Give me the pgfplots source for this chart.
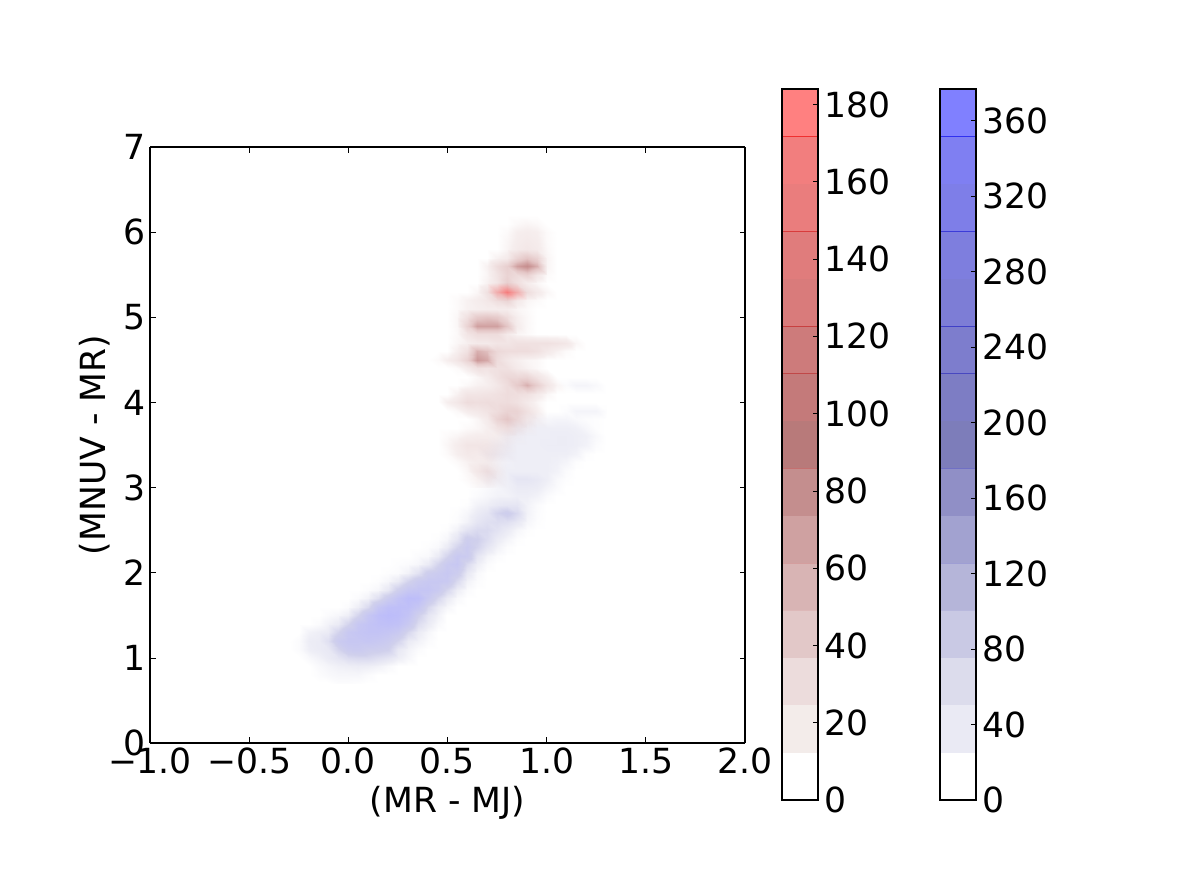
\documentclass[border=0pt]{standalone}
\usepackage{fontspec}
\setmainfont{DejaVu Sans}
\usepackage{pgfplots}
\pgfplotsset{compat=1.18}

% colormaps of the density image
\pgfplotsset{
  colormap={mapred}{rgb255(0)=(255,255,255) rgb255(105)=(246,238,238) rgb255(580)=(228,198,198) rgb255(900)=(204,152,152) rgb255(1000)=(198,142,142)},
  colormap={mapspot}{rgb255(0)=(255,255,255) rgb255(1000)=(255,135,135)},
  colormap={mapblue}{rgb255(0)=(255,255,255) rgb255(110)=(238,238,246) rgb255(400)=(208,208,236) rgb255(1000)=(188,188,250)},
  barax/.style={
    width=0.36in, height=7.11in, scale only axis,
    xmin=0, xmax=1, xtick=\empty,
    ytick pos=right, yticklabel pos=right,
    tick align=inside, major tick length=0.055in,
    tick style={black, line width=0.5pt},
    axis line style={line width=0.8pt},
    anchor=south west, axis on top,
    ticklabel style={font=\fontsize{25}{25}\selectfont},
    /pgf/number format/assume math mode=true,
    /pgf/number format/fixed,
    yticklabel shift=0.02in,
  },
}
% one band of a colour bar: fill, edge colour, lower and upper value
\newcommand{\lev}[4]{%
  \addplot[draw=none, fill=#1, forget plot] coordinates {(0,#3) (1,#3) (1,#4) (0,#4)} -- cycle;
  \addplot[color=#2, line width=0.6pt, forget plot] coordinates {(0,#4) (1,#4)};
}

\begin{document}
\begin{tikzpicture}
\path[use as bounding box] (0,0) rectangle (12in,8.9in);

\begin{axis}[
  at={(1.50in,1.47in)}, anchor=south west,
  width=5.95in, height=5.96in, scale only axis,
  view={0}{90},
  xmin=-1, xmax=2, ymin=0, ymax=7,
  xtick={-1,-0.5,...,2}, ytick={0,1,...,7},
  xticklabels={−1.0,−0.5,0.0,0.5,1.0,1.5,2.0},
  tick align=inside, major tick length=0.055in,
  tick style={black, line width=0.5pt},
  axis line style={line width=0.8pt},
  axis on top,
  ticklabel style={font=\fontsize{25}{25}\selectfont},
  /pgf/number format/assume math mode=true,
  xlabel={(MR - MJ)}, ylabel={(MNUV - MR)},
  label style={font=\fontsize{25}{25}\selectfont},
  xlabel style={at={(axis description cs:0.5,0)}, anchor=base, yshift=-0.69in},
  ylabel style={at={(axis description cs:0,0.5)}, anchor=base, rotate=0, yshift=0.44in},
]
% blue: 33 columns x=-0.30..1.30, 37 rows y=0.7..4.3 (groups of five)
\addplot3[surf, shader=interp, colormap name=mapblue, point meta rel=per plot, point meta=z, mesh/cols=33]
  table[row sep=crcr, header=false, x expr={-0.30+0.05*mod(\coordindex,33)}, y expr={0.7+0.1*floor(\coordindex/33)}, z index=0] {
0\\0\\0\\0\\0\\ 8\\8\\5\\0\\0\\ 0\\0\\0\\0\\0\\ 0\\0\\0\\0\\0\\ 0\\0\\0\\0\\0\\ 0\\0\\0\\0\\0\\ 0\\0\\0\\
0\\0\\0\\8\\15\\ 20\\20\\20\\10\\0\\ 0\\0\\0\\0\\0\\ 0\\0\\0\\0\\0\\ 0\\0\\0\\0\\0\\ 0\\0\\0\\0\\0\\ 0\\0\\0\\
0\\0\\0\\15\\25\\ 35\\40\\45\\40\\30\\ 15\\0\\0\\0\\0\\ 0\\0\\0\\0\\0\\ 0\\0\\0\\0\\0\\ 0\\0\\0\\0\\0\\ 0\\0\\0\\
0\\0\\15\\30\\50\\ 70\\100\\110\\110\\90\\ 70\\40\\20\\0\\0\\ 0\\0\\0\\0\\0\\ 0\\0\\0\\0\\0\\ 0\\0\\0\\0\\0\\ 0\\0\\0\\
0\\10\\40\\50\\60\\ 130\\200\\210\\180\\170\\ 150\\60\\30\\10\\0\\ 0\\0\\0\\0\\0\\ 0\\0\\0\\0\\0\\ 0\\0\\0\\0\\0\\ 0\\0\\0\\
0\\10\\45\\50\\90\\ 200\\240\\240\\250\\230\\ 200\\130\\50\\30\\10\\ 0\\0\\0\\0\\0\\ 0\\0\\0\\0\\0\\ 0\\0\\0\\0\\0\\ 0\\0\\0\\
0\\0\\30\\40\\50\\ 130\\230\\260\\280\\280\\ 260\\220\\120\\50\\20\\ 0\\0\\0\\0\\0\\ 0\\0\\0\\0\\0\\ 0\\0\\0\\0\\0\\ 0\\0\\0\\
0\\0\\0\\10\\30\\ 50\\130\\240\\280\\310\\ 320\\300\\220\\100\\50\\ 15\\0\\0\\0\\0\\ 0\\0\\0\\0\\0\\ 0\\0\\0\\0\\0\\ 0\\0\\0\\
0\\0\\0\\0\\10\\ 20\\40\\130\\250\\330\\ 360\\340\\280\\150\\70\\ 30\\0\\0\\0\\0\\ 0\\0\\0\\0\\0\\ 0\\0\\0\\0\\0\\ 0\\0\\0\\
0\\0\\0\\0\\0\\ 0\\10\\40\\110\\250\\ 320\\330\\320\\250\\120\\ 50\\20\\0\\0\\0\\ 0\\0\\0\\0\\0\\ 0\\0\\0\\0\\0\\ 0\\0\\0\\
0\\0\\0\\0\\0\\ 0\\0\\10\\30\\90\\ 190\\280\\350\\340\\220\\ 120\\50\\15\\0\\0\\ 0\\0\\0\\0\\0\\ 0\\0\\0\\0\\0\\ 0\\0\\0\\
0\\0\\0\\0\\0\\ 0\\0\\0\\8\\20\\ 60\\160\\240\\260\\260\\ 210\\120\\40\\10\\0\\ 0\\0\\0\\0\\0\\ 0\\0\\0\\0\\0\\ 0\\0\\0\\
0\\0\\0\\0\\0\\ 0\\0\\0\\0\\5\\ 20\\50\\130\\200\\230\\ 230\\220\\110\\30\\8\\ 0\\0\\0\\0\\0\\ 0\\0\\0\\0\\0\\ 0\\0\\0\\
0\\0\\0\\0\\0\\ 0\\0\\0\\0\\0\\ 5\\10\\30\\80\\170\\ 200\\230\\180\\60\\15\\ 0\\0\\0\\0\\0\\ 0\\0\\0\\0\\0\\ 0\\0\\0\\
0\\0\\0\\0\\0\\ 0\\0\\0\\0\\0\\ 0\\5\\10\\20\\50\\ 130\\210\\240\\110\\40\\ 10\\0\\0\\0\\0\\ 0\\0\\0\\0\\0\\ 0\\0\\0\\
0\\0\\0\\0\\0\\ 0\\0\\0\\0\\0\\ 0\\0\\0\\10\\15\\ 50\\130\\220\\200\\70\\ 25\\8\\0\\0\\0\\ 0\\0\\0\\0\\0\\ 0\\0\\0\\
0\\0\\0\\0\\0\\ 0\\0\\0\\0\\0\\ 0\\0\\0\\0\\5\\ 15\\50\\130\\200\\130\\ 70\\30\\8\\0\\0\\ 0\\0\\0\\0\\0\\ 0\\0\\0\\
0\\0\\0\\0\\0\\ 0\\0\\0\\0\\0\\ 0\\0\\0\\0\\0\\ 5\\20\\70\\170\\150\\ 100\\50\\25\\5\\0\\ 0\\0\\0\\0\\0\\ 0\\0\\0\\
0\\0\\0\\0\\0\\ 0\\0\\0\\0\\0\\ 0\\0\\0\\0\\0\\ 0\\5\\30\\80\\110\\ 110\\80\\50\\20\\5\\ 0\\0\\0\\0\\0\\ 0\\0\\0\\
0\\0\\0\\0\\0\\ 0\\0\\0\\0\\0\\ 0\\0\\0\\0\\0\\ 0\\0\\8\\30\\70\\ 90\\100\\90\\60\\20\\ 5\\0\\0\\0\\0\\ 0\\0\\0\\
0\\0\\0\\0\\0\\ 0\\0\\0\\0\\0\\ 0\\0\\0\\0\\0\\ 0\\0\\5\\20\\50\\ 70\\130\\170\\110\\30\\ 8\\0\\0\\0\\0\\ 0\\0\\0\\
0\\0\\0\\0\\0\\ 0\\0\\0\\0\\0\\ 0\\0\\0\\0\\0\\ 0\\0\\0\\5\\30\\ 40\\60\\70\\70\\30\\ 10\\0\\0\\0\\0\\ 0\\0\\0\\
0\\0\\0\\0\\0\\ 0\\0\\0\\0\\0\\ 0\\0\\0\\0\\0\\ 0\\0\\0\\0\\10\\ 20\\30\\30\\40\\40\\ 30\\10\\0\\0\\0\\ 0\\0\\0\\
0\\0\\0\\0\\0\\ 0\\0\\0\\0\\0\\ 0\\0\\0\\0\\0\\ 0\\0\\0\\0\\5\\ 15\\25\\35\\50\\50\\ 45\\25\\10\\0\\0\\ 0\\0\\0\\
0\\0\\0\\0\\0\\ 0\\0\\0\\0\\0\\ 0\\0\\0\\0\\0\\ 0\\0\\0\\0\\0\\ 15\\30\\40\\70\\70\\ 60\\40\\15\\5\\0\\ 0\\0\\0\\
0\\0\\0\\0\\0\\ 0\\0\\0\\0\\0\\ 0\\0\\0\\0\\0\\ 0\\0\\0\\0\\0\\ 10\\20\\40\\40\\40\\ 40\\40\\30\\10\\0\\ 0\\0\\0\\
0\\0\\0\\0\\0\\ 0\\0\\0\\0\\0\\ 0\\0\\0\\0\\0\\ 0\\0\\0\\0\\0\\ 5\\20\\35\\40\\40\\ 40\\40\\35\\25\\5\\ 0\\0\\0\\
0\\0\\0\\0\\0\\ 0\\0\\0\\0\\0\\ 0\\0\\0\\0\\0\\ 0\\0\\0\\0\\0\\ 15\\30\\40\\40\\40\\ 40\\40\\40\\40\\30\\ 5\\0\\0\\
0\\0\\0\\0\\0\\ 0\\0\\0\\0\\0\\ 0\\0\\0\\0\\0\\ 0\\0\\0\\0\\0\\ 5\\20\\35\\40\\40\\ 40\\45\\45\\45\\40\\ 30\\8\\0\\
0\\0\\0\\0\\0\\ 0\\0\\0\\0\\0\\ 0\\0\\0\\0\\0\\ 0\\0\\0\\0\\0\\ 0\\5\\25\\35\\40\\ 40\\40\\45\\45\\40\\ 35\\15\\0\\
0\\0\\0\\0\\0\\ 0\\0\\0\\0\\0\\ 0\\0\\0\\0\\0\\ 0\\0\\0\\0\\0\\ 0\\0\\5\\25\\30\\ 40\\40\\40\\40\\35\\ 20\\5\\0\\
0\\0\\0\\0\\0\\ 0\\0\\0\\0\\0\\ 0\\0\\0\\0\\0\\ 0\\0\\0\\0\\0\\ 0\\0\\0\\5\\10\\ 20\\20\\25\\25\\15\\ 8\\5\\0\\
0\\0\\0\\0\\0\\ 0\\0\\0\\0\\0\\ 0\\0\\0\\0\\0\\ 0\\0\\0\\0\\0\\ 0\\0\\0\\0\\0\\ 0\\0\\0\\8\\25\\ 25\\25\\5\\
0\\0\\0\\0\\0\\ 0\\0\\0\\0\\0\\ 0\\0\\0\\0\\0\\ 0\\0\\0\\0\\0\\ 0\\0\\0\\0\\0\\ 0\\0\\0\\0\\0\\ 0\\0\\0\\
0\\0\\0\\0\\0\\ 0\\0\\0\\0\\0\\ 0\\0\\0\\0\\0\\ 0\\0\\0\\0\\0\\ 0\\0\\0\\0\\0\\ 0\\0\\0\\0\\0\\ 0\\0\\0\\
0\\0\\0\\0\\0\\ 0\\0\\0\\0\\0\\ 0\\0\\0\\0\\0\\ 0\\0\\0\\0\\0\\ 0\\0\\0\\0\\0\\ 0\\0\\0\\10\\25\\ 25\\15\\0\\
0\\0\\0\\0\\0\\ 0\\0\\0\\0\\0\\ 0\\0\\0\\0\\0\\ 0\\0\\0\\0\\0\\ 0\\0\\0\\0\\0\\ 0\\0\\0\\0\\0\\ 0\\0\\0\\
};
% red: 19 columns x=0.40..1.30, 33 rows y=3.0..6.2 (groups of five)
\addplot3[surf, shader=interp, colormap name=mapred, point meta rel=per plot, point meta=z, mesh/cols=19, blend mode=multiply]
  table[row sep=crcr, header=false, x expr={0.40+0.05*mod(\coordindex,19)}, y expr={3.0+0.1*floor(\coordindex/19)}, z index=0] {
0\\0\\0\\0\\0\\ 3\\3\\0\\0\\0\\ 0\\0\\0\\0\\0\\ 0\\0\\0\\0\\
0\\0\\0\\0\\3\\ 8\\12\\5\\0\\0\\ 0\\0\\0\\0\\0\\ 0\\0\\0\\0\\
0\\0\\0\\0\\5\\ 18\\25\\8\\0\\0\\ 0\\0\\0\\0\\0\\ 0\\0\\0\\0\\
0\\0\\0\\3\\8\\ 12\\12\\5\\0\\0\\ 0\\0\\0\\0\\0\\ 0\\0\\0\\0\\
0\\0\\3\\10\\16\\ 14\\16\\8\\3\\0\\ 0\\0\\0\\0\\0\\ 0\\0\\0\\0\\
0\\0\\5\\12\\20\\ 20\\18\\10\\5\\0\\ 0\\0\\0\\0\\0\\ 0\\0\\0\\0\\
0\\0\\3\\6\\10\\ 12\\12\\10\\8\\3\\ 0\\0\\0\\0\\0\\ 0\\0\\0\\0\\
0\\0\\0\\0\\3\\ 5\\10\\22\\28\\12\\ 5\\0\\0\\0\\0\\ 0\\0\\0\\0\\
0\\0\\0\\0\\0\\ 5\\14\\40\\55\\35\\ 15\\5\\0\\0\\0\\ 0\\0\\0\\0\\
0\\0\\0\\4\\12\\ 16\\22\\30\\40\\40\\ 25\\10\\0\\0\\0\\ 0\\0\\0\\0\\
0\\0\\10\\18\\30\\ 28\\30\\28\\30\\25\\ 15\\6\\0\\0\\0\\ 0\\0\\0\\0\\
0\\0\\0\\8\\20\\ 20\\22\\25\\30\\28\\ 25\\15\\5\\0\\0\\ 0\\0\\0\\0\\
0\\0\\0\\0\\4\\ 8\\10\\18\\30\\50\\ 70\\45\\20\\6\\0\\ 0\\0\\0\\0\\
0\\0\\0\\0\\0\\ 5\\12\\25\\35\\35\\ 38\\22\\10\\0\\0\\ 0\\0\\0\\0\\
0\\0\\0\\3\\12\\ 25\\22\\25\\25\\14\\ 8\\4\\0\\0\\0\\ 0\\0\\0\\0\\
0\\3\\10\\20\\40\\ 85\\75\\30\\18\\10\\ 6\\4\\0\\0\\0\\ 0\\0\\0\\0\\
0\\0\\0\\10\\25\\ 70\\60\\35\\30\\30\\ 30\\25\\15\\8\\3\\ 0\\0\\0\\0\\
0\\0\\0\\5\\10\\ 15\\15\\20\\20\\25\\ 25\\25\\25\\22\\18\\ 5\\0\\0\\0\\
0\\0\\0\\4\\20\\ 30\\30\\30\\15\\6\\ 3\\0\\0\\0\\0\\ 0\\0\\0\\0\\
0\\0\\0\\5\\40\\ 80\\80\\80\\55\\12\\ 4\\0\\0\\0\\0\\ 0\\0\\0\\0\\
0\\0\\0\\5\\25\\ 50\\55\\50\\30\\10\\ 4\\0\\0\\0\\0\\ 0\\0\\0\\0\\
0\\0\\0\\3\\8\\ 10\\12\\12\\12\\6\\ 3\\0\\0\\0\\0\\ 0\\0\\0\\0\\
0\\0\\0\\3\\8\\ 12\\18\\30\\40\\15\\ 6\\3\\0\\0\\0\\ 0\\0\\0\\0\\
0\\0\\0\\0\\0\\ 5\\25\\25\\12\\25\\ 30\\15\\5\\0\\0\\ 0\\0\\0\\0\\
0\\0\\0\\0\\0\\ 0\\8\\20\\45\\25\\ 12\\5\\0\\0\\0\\ 0\\0\\0\\0\\
0\\0\\0\\0\\0\\ 0\\6\\22\\40\\32\\ 42\\18\\3\\0\\0\\ 0\\0\\0\\0\\
0\\0\\0\\0\\0\\ 0\\8\\30\\45\\80\\ 95\\70\\6\\0\\0\\ 0\\0\\0\\0\\
0\\0\\0\\0\\0\\ 0\\0\\8\\14\\40\\ 55\\40\\6\\0\\0\\ 0\\0\\0\\0\\
0\\0\\0\\0\\0\\ 0\\0\\0\\6\\14\\ 18\\14\\4\\0\\0\\ 0\\0\\0\\0\\
0\\0\\0\\0\\0\\ 0\\0\\0\\5\\12\\ 15\\12\\3\\0\\0\\ 0\\0\\0\\0\\
0\\0\\0\\0\\0\\ 0\\0\\0\\3\\10\\ 12\\10\\3\\0\\0\\ 0\\0\\0\\0\\
0\\0\\0\\0\\0\\ 0\\0\\0\\0\\4\\ 6\\4\\0\\0\\0\\ 0\\0\\0\\0\\
0\\0\\0\\0\\0\\ 0\\0\\0\\0\\0\\ 0\\0\\0\\0\\0\\ 0\\0\\0\\0\\
};
% the bright spot: x=0.70..0.90, y=5.2..5.4
\addplot3[surf, shader=interp, colormap name=mapspot, point meta rel=per plot, point meta=z, mesh/cols=5, blend mode=multiply]
  table[row sep=crcr, header=false, x expr={0.70+0.05*mod(\coordindex,5)}, y expr={5.2+0.1*floor(\coordindex/5)}, z index=0] {
0\\5\\10\\5\\0\\
0\\90\\184\\90\\0\\
0\\5\\10\\5\\0\\
};
\end{axis}

% red colour bar
\begin{axis}[barax, at={(7.82in,0.90in)}, ymin=0, ymax=184, ytick={0,20,...,180}]
\definecolor{r1}{HTML}{F3ECEA}\definecolor{r2}{HTML}{ECDCDC}\definecolor{r3}{HTML}{E2C8C8}\definecolor{r4}{HTML}{D8B4B4}
\definecolor{r5}{HTML}{CFA1A1}\definecolor{r6}{HTML}{C48E8E}\definecolor{r7}{HTML}{B87A7A}\definecolor{r8}{HTML}{C47A7A}
\definecolor{r9}{HTML}{CD7B7B}\definecolor{r10}{HTML}{D97B7B}\definecolor{r11}{HTML}{E07C7C}\definecolor{r12}{HTML}{EA7D7D}
\definecolor{r13}{HTML}{F27E7E}\definecolor{r14}{HTML}{FF8080}
\definecolor{l1}{HTML}{F3ECEA}\definecolor{l2}{HTML}{E6D0D0}\definecolor{l3}{HTML}{DDB8B8}\definecolor{l4}{HTML}{D49E9E}
\definecolor{l5}{HTML}{CC8C8C}\definecolor{l6}{HTML}{C47070}\definecolor{l7}{HTML}{B85050}\definecolor{l8}{HTML}{C04848}
\definecolor{l9}{HTML}{C84040}\definecolor{l10}{HTML}{D04040}\definecolor{l11}{HTML}{D83C3C}\definecolor{l12}{HTML}{E03838}
\definecolor{l13}{HTML}{F03030}
\lev{white}{white}{0}{12.27}
\lev{r1}{l1}{12.27}{24.53}
\lev{r2}{l2}{24.53}{36.80}
\lev{r3}{l3}{36.80}{49.07}
\lev{r4}{l4}{49.07}{61.33}
\lev{r5}{l5}{61.33}{73.60}
\lev{r6}{l6}{73.60}{85.87}
\lev{r7}{l7}{85.87}{98.13}
\lev{r8}{l8}{98.13}{110.40}
\lev{r9}{l9}{110.40}{122.67}
\lev{r10}{l10}{122.67}{134.93}
\lev{r11}{l11}{134.93}{147.20}
\lev{r12}{l12}{147.20}{159.47}
\lev{r13}{l13}{159.47}{171.73}
\lev{r14}{r14}{171.73}{184}
\end{axis}

% blue colour bar
\begin{axis}[barax, at={(9.40in,0.90in)}, ymin=0, ymax=376.7, ytick={0,40,...,360}]
\definecolor{b1}{HTML}{EAEAF4}\definecolor{b2}{HTML}{DCDCEC}\definecolor{b3}{HTML}{C9C9E4}\definecolor{b4}{HTML}{B5B5D9}
\definecolor{b5}{HTML}{A2A2D0}\definecolor{b6}{HTML}{908FC6}\definecolor{b7}{HTML}{7D7DBA}\definecolor{b8}{HTML}{7D7DC4}
\definecolor{b9}{HTML}{7D7DCD}\definecolor{b10}{HTML}{7D7DD6}\definecolor{b11}{HTML}{7E7EDE}\definecolor{b12}{HTML}{7E7EE8}
\definecolor{b13}{HTML}{7F7FF2}\definecolor{b14}{HTML}{8080FF}
\definecolor{m1}{HTML}{EAEAF4}\definecolor{m2}{HTML}{D0D0E6}\definecolor{m3}{HTML}{B8B8DD}\definecolor{m4}{HTML}{9E9ED4}
\definecolor{m5}{HTML}{8C8CCC}\definecolor{m6}{HTML}{7070C4}\definecolor{m7}{HTML}{5050B8}\definecolor{m8}{HTML}{4848C0}
\definecolor{m9}{HTML}{4040C8}\definecolor{m10}{HTML}{4040D0}\definecolor{m11}{HTML}{3C3CD8}\definecolor{m12}{HTML}{3838E0}
\definecolor{m13}{HTML}{3030F0}
\lev{white}{white}{0}{25.11}
\lev{b1}{m1}{25.11}{50.23}
\lev{b2}{m2}{50.23}{75.34}
\lev{b3}{m3}{75.34}{100.45}
\lev{b4}{m4}{100.45}{125.57}
\lev{b5}{m5}{125.57}{150.68}
\lev{b6}{m6}{150.68}{175.79}
\lev{b7}{m7}{175.79}{200.91}
\lev{b8}{m8}{200.91}{226.02}
\lev{b9}{m9}{226.02}{251.13}
\lev{b10}{m10}{251.13}{276.25}
\lev{b11}{m11}{276.25}{301.36}
\lev{b12}{m12}{301.36}{326.47}
\lev{b13}{m13}{326.47}{351.59}
\lev{b14}{b14}{351.59}{376.7}
\end{axis}
\end{tikzpicture}
\end{document}
